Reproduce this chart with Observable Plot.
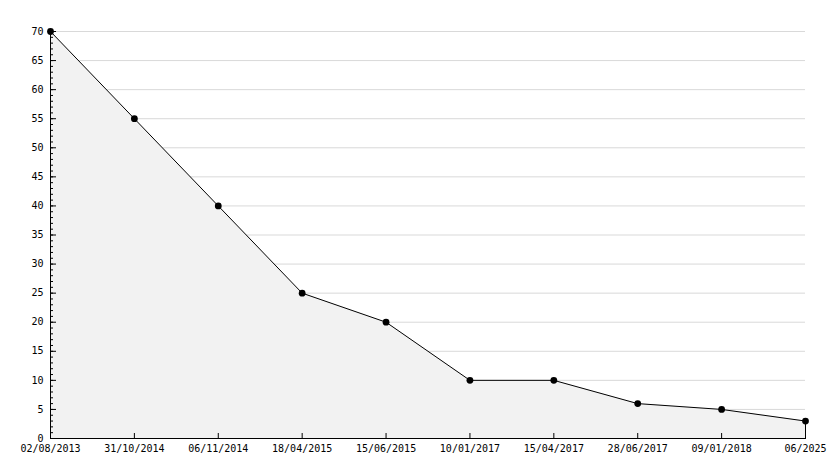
<!DOCTYPE html>
<html>
<head>
<meta charset="utf-8">
<script src="https://cdn.jsdelivr.net/npm/d3@7"></script>
<script src="https://cdn.jsdelivr.net/npm/@observablehq/plot@0.6"></script>
<style>
  html, body { margin: 0; padding: 0; background: #fff; }
  #chart svg { display: block; }
</style>
</head>
<body>
<div id="chart"></div>
<script>
const dates = ["02/08/2013", "31/10/2014", "06/11/2014", "18/04/2015", "15/06/2015", "10/01/2017", "15/04/2017", "28/06/2017", "09/01/2018", "06/2025"];
const values = [70, 55, 40, 25, 20, 10, 10, 6, 5, 3];
const yMajorTicks = d3.range(0, 71, 5);
const yMinorTicks = d3.range(0, 71, 1);

const data = dates.map((d, i) => ({date: d, value: values[i]}));
const last = data[data.length - 1];

const W = 834, H = 468, ML = 50, MR = 29, MT = 31, MB = 30;

const chart = Plot.plot({
  width: W,
  height: H,
  marginLeft: ML,
  marginRight: MR,
  marginTop: MT,
  marginBottom: MB,
  style: {fontFamily: "DejaVu Sans Mono", fontSize: "10px", color: "#000", background: "#fff"},
  x: {type: "point", domain: dates, padding: 0, round: false, label: null},
  y: {domain: [0, 70], label: null},
  marks: [
    Plot.gridY(yMajorTicks.filter(t => t > 0), {stroke: "#d9d9d9", strokeOpacity: 1, strokeWidth: 1}),
    Plot.areaY(data, {x: "date", y: "value", fill: "#f2f2f2", curve: "linear"}),
    Plot.lineY(data, {x: "date", y: "value", stroke: "#000", strokeWidth: 1}),
    Plot.ruleX([last], {x: "date", y1: 0, y2: "value", stroke: "#000"}),
    Plot.frame({anchor: "left", stroke: "#000"}),
    Plot.frame({anchor: "bottom", stroke: "#000"}),
    Plot.axisY(yMinorTicks, {tickSize: -3, text: null, stroke: "#000", label: null}),
    Plot.axisY(yMajorTicks, {tickSize: -6, text: null, stroke: "#000", label: null}),
    Plot.axisY(yMajorTicks, {tickSize: 0, tickPadding: 7, fill: "#000", label: null}),
    Plot.axisX(dates, {tickSize: -5, text: null, stroke: "#000", label: null}),
    Plot.axisX(dates, {tickSize: 0, tickPadding: 6, fill: "#000", label: null}),
    Plot.dot(data, {x: "date", y: "value", r: 3.4, fill: "#000", stroke: "none"})
  ]
});
document.getElementById("chart").appendChild(chart);
</script>
</body>
</html>
